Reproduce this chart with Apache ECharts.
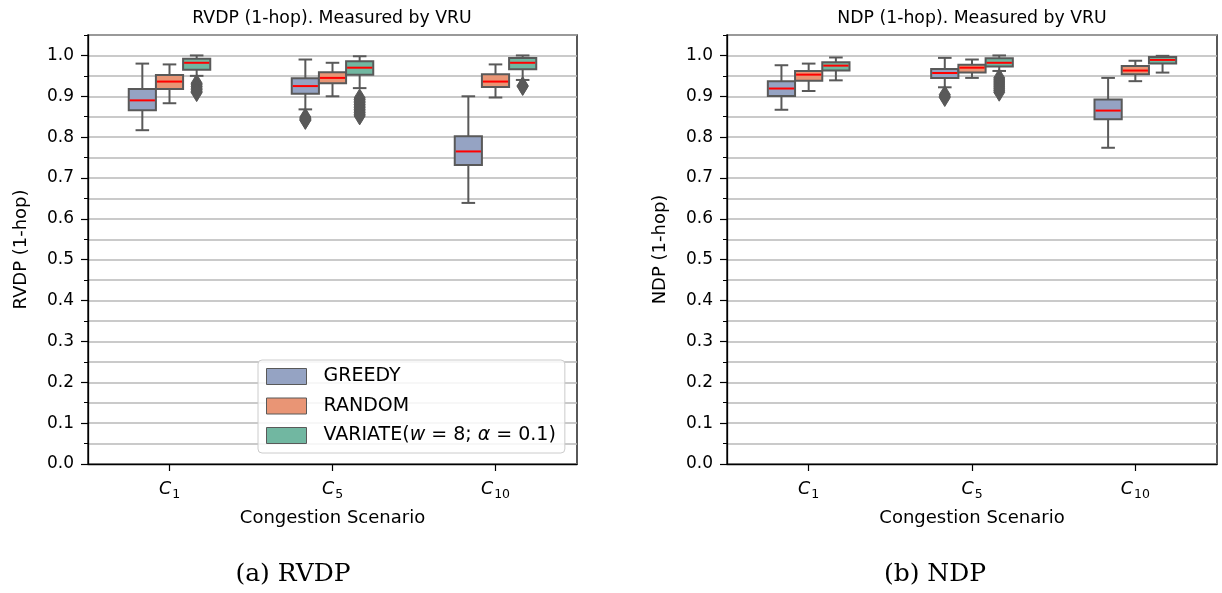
<!DOCTYPE html>
<html><head><meta charset="utf-8">
<script src="https://cdn.jsdelivr.net/npm/echarts@6/dist/echarts.min.js"></script>
<style>html,body{margin:0;padding:0;background:#fff}#c{width:1222px;height:593px}</style>
</head><body><div id="c"></div>
<script>
// ---- data ----
const categories = ['C1', 'C5', 'C10'];
const hueNames = ['GREEDY', 'RANDOM', 'VARIATE'];
const yTicks = [0, 0.1, 0.2, 0.3, 0.4, 0.5, 0.6, 0.7, 0.8, 0.9, 1.0];
// [min, q1, median, q3, max] per category
const rvdpGreedy  = [[0.817, 0.866, 0.890, 0.918, 0.980], [0.868, 0.906, 0.925, 0.944, 0.990], [0.639, 0.732, 0.765, 0.802, 0.900]];
const rvdpRandom  = [[0.883, 0.918, 0.936, 0.952, 0.978], [0.900, 0.932, 0.945, 0.959, 0.982], [0.897, 0.923, 0.936, 0.954, 0.978]];
const rvdpVariate = [[0.950, 0.965, 0.982, 0.992, 1.000], [0.920, 0.953, 0.970, 0.986, 0.998], [0.940, 0.966, 0.982, 0.994, 1.000]];
const rvdpGreedyOut  = [[], [0.849, 0.846, 0.843, 0.841], []];
const rvdpRandomOut  = [[], [], []];
const rvdpVariateOut = [[0.932, 0.928, 0.924, 0.920, 0.916, 0.912, 0.909],
                        [0.896, 0.892, 0.888, 0.884, 0.880, 0.876, 0.872, 0.868, 0.864, 0.860, 0.856, 0.852],
                        [0.926, 0.924]];
const ndpGreedy  = [[0.867, 0.901, 0.919, 0.937, 0.976], [0.922, 0.945, 0.957, 0.967, 0.994], [0.774, 0.844, 0.865, 0.892, 0.945]];
const ndpRandom  = [[0.913, 0.938, 0.953, 0.962, 0.980], [0.945, 0.958, 0.970, 0.977, 0.990], [0.937, 0.954, 0.963, 0.974, 0.987]];
const ndpVariate = [[0.939, 0.963, 0.975, 0.983, 0.995], [0.962, 0.973, 0.982, 0.993, 1.000], [0.958, 0.980, 0.989, 0.996, 0.999]];
const ndpGreedyOut  = [[], [0.904, 0.900, 0.897], []];
const ndpRandomOut  = [[], [], []];
const ndpVariateOut = [[], [0.945, 0.940, 0.935, 0.930, 0.925, 0.920, 0.915, 0.910], []];

// ---- styles ----
const hueColors = ['#95a3c3', '#e99575', '#71b7a1'];
const EDGE = '#595959';
const MEDIAN = '#ff0000';
const FONT = 'DejaVu Sans';
const GRIDC = '#b8b8b8';

function boxRender(hue) {
  return function (params, api) {
    const ci = api.value(0);
    const band = api.size([1, 0])[0];
    const step = band / 6;
    const bw = band / 6;
    const cx = api.coord([ci, 0])[0] + (hue - 1) * step;
    const y = i => api.coord([ci, api.value(i)])[1];
    const yMin = y(1), yQ1 = y(2), yMed = y(3), yQ3 = y(4), yMax = y(5);
    const ls = { stroke: EDGE, lineWidth: 2 };
    return { type: 'group', children: [
      { type: 'line', shape: { x1: cx, y1: yQ1, x2: cx, y2: yMin }, style: ls },
      { type: 'line', shape: { x1: cx, y1: yQ3, x2: cx, y2: yMax }, style: ls },
      { type: 'line', shape: { x1: cx - bw / 4, y1: yMin, x2: cx + bw / 4, y2: yMin }, style: ls },
      { type: 'line', shape: { x1: cx - bw / 4, y1: yMax, x2: cx + bw / 4, y2: yMax }, style: ls },
      { type: 'rect', shape: { x: cx - bw / 2, y: yQ3, width: bw, height: yQ1 - yQ3 }, style: { fill: hueColors[hue], stroke: EDGE, lineWidth: 2 } },
      { type: 'line', shape: { x1: cx - bw / 2 + 1, y1: yMed, x2: cx + bw / 2 - 1, y2: yMed }, style: { stroke: MEDIAN, lineWidth: 2 } }
    ]};
  };
}
function outRender(hue) {
  return function (params, api) {
    const ci = api.value(0);
    const band = api.size([1, 0])[0];
    const p = api.coord([ci, api.value(1)]);
    const cx = p[0] + (hue - 1) * band / 6, cy = p[1];
    return { type: 'polygon', shape: { points: [[cx, cy - 9], [cx + 5.5, cy], [cx, cy + 9], [cx - 5.5, cy]] },
      style: { fill: EDGE, stroke: EDGE, lineWidth: 1 } };
  };
}
function boxData(arr) { return arr.map((v, i) => [i].concat(v)); }
function outData(arr) { const r = []; arr.forEach((vs, i) => vs.forEach(v => r.push([i, v]))); return r; }

function makeSeries(gi, sets, outs) {
  const s = [];
  sets.forEach((d, h) => {
    s.push({ type: 'custom', name: hueNames[h], xAxisIndex: gi, yAxisIndex: gi * 2,
      itemStyle: { color: hueColors[h] }, renderItem: boxRender(h), encode: { x: 0, y: [1, 2, 3, 4, 5] },
      data: boxData(d), z: 3 });
  });
  outs.forEach((d, h) => {
    s.push({ type: 'custom', name: hueNames[h], xAxisIndex: gi, yAxisIndex: gi * 2,
      itemStyle: { color: hueColors[h] }, renderItem: outRender(h), encode: { x: 0, y: 1 },
      data: outData(d), z: 2 });
  });
  return s;
}

const grids = [
  { left: 88, top: 35, width: 489, height: 429, show: true, borderColor: '#000', borderWidth: 1.3, containLabel: false },
  { left: 727, top: 35, width: 490, height: 429, show: true, borderColor: '#000', borderWidth: 1.3, containLabel: false }
];
function xAxis(gi) {
  return { type: 'category', gridIndex: gi, data: categories, boundaryGap: true,
    axisLine: { show: true, lineStyle: { color: '#000', width: 1.3 } },
    axisTick: { show: true, alignWithLabel: true, length: 7, lineStyle: { color: '#000', width: 1.2 } },
    axisLabel: { margin: 14, color: '#000', fontFamily: FONT,
      formatter: v => '{c|C}{s|' + v.slice(1) + '}',
      rich: { c: { fontSize: 17.5, fontStyle: 'italic', fontFamily: FONT, color: '#000' },
              s: { fontSize: 12.5, fontFamily: FONT, color: '#000', padding: [10, 0, 0, 1] } } },
    splitLine: { show: false },
    name: 'Congestion Scenario', nameLocation: 'middle', nameGap: 45,
    nameTextStyle: { fontSize: 18, fontFamily: FONT, color: '#000' } };
}
function yAxes(gi, name) {
  return [
    { type: 'value', gridIndex: gi, min: 0, max: 1.05, interval: 0.05, position: 'left',
      axisLine: { show: true, lineStyle: { color: '#000', width: 1.3 } },
      axisTick: { show: true, length: 4, lineStyle: { color: '#000', width: 1 } },
      axisLabel: { show: false },
      splitLine: { show: true, lineStyle: { color: GRIDC, width: 1.5 } },
      name: name, nameLocation: 'middle', nameGap: 58,
      nameTextStyle: { fontSize: 18, fontFamily: FONT, color: '#000' } },
    { type: 'value', gridIndex: gi, min: 0, max: 1.05, interval: 0.1, position: 'left',
      axisLine: { show: false },
      axisTick: { show: true, length: 7, lineStyle: { color: '#000', width: 1.2 } },
      axisLabel: { show: true, margin: 14, fontSize: 17, fontFamily: FONT, color: '#000', showMaxLabel: false,
        formatter: v => (yTicks.some(t => Math.abs(t - v) < 1e-6) ? v.toFixed(1) : '') },
      splitLine: { show: false } }
  ];
}

const titleStyle = { fontSize: 17.3, fontFamily: FONT, fill: '#000', align: 'center', verticalAlign: 'middle' };
const capStyle = { fontSize: 25, fontFamily: 'DejaVu Serif', fill: '#000', align: 'center', verticalAlign: 'middle' };

const option = {
  backgroundColor: '#fff',
  animation: false,
  grid: grids,
  xAxis: [xAxis(0), xAxis(1)],
  yAxis: yAxes(0, 'RVDP (1-hop)').concat(yAxes(1, 'NDP (1-hop)')),
  legend: {
    left: 258, top: 360, orient: 'vertical', selectedMode: false,
    icon: 'rect', itemWidth: 40, itemHeight: 16, itemGap: 10.5,
    padding: [7, 9, 8, 8], backgroundColor: 'rgba(255,255,255,0.85)',
    borderColor: '#cccccc', borderWidth: 1, borderRadius: 4, z: 10,
    textStyle: { fontSize: 19, fontFamily: FONT, color: '#000', padding: [0, 0, 0, 12],
      rich: { i: { fontSize: 19, fontFamily: FONT, fontStyle: 'italic', color: '#000' } } },
    formatter: n => n === 'VARIATE' ? 'VARIATE({i|w} = 8; {i|α} = 0.1)' : n,
    data: hueNames.map((n, h) => ({ name: n, itemStyle: { color: hueColors[h], borderColor: EDGE, borderWidth: 1 } }))
  },
  graphic: [
    { type: 'text', x: 332, y: 19, style: Object.assign({ text: 'RVDP (1-hop). Measured by VRU' }, titleStyle) },
    { type: 'text', x: 972, y: 19, style: Object.assign({ text: 'NDP (1-hop). Measured by VRU' }, titleStyle) },
    { type: 'text', x: 293, y: 574, style: Object.assign({ text: '(a) RVDP' }, capStyle) },
    { type: 'text', x: 935, y: 574, style: Object.assign({ text: '(b) NDP' }, capStyle) }
  ],
  series: makeSeries(0, [rvdpGreedy, rvdpRandom, rvdpVariate], [rvdpGreedyOut, rvdpRandomOut, rvdpVariateOut])
    .concat(makeSeries(1, [ndpGreedy, ndpRandom, ndpVariate], [ndpGreedyOut, ndpRandomOut, ndpVariateOut]))
};
const chart = echarts.init(document.getElementById('c'), null, { renderer: 'canvas' });
chart.setOption(option);
</script></body></html>
